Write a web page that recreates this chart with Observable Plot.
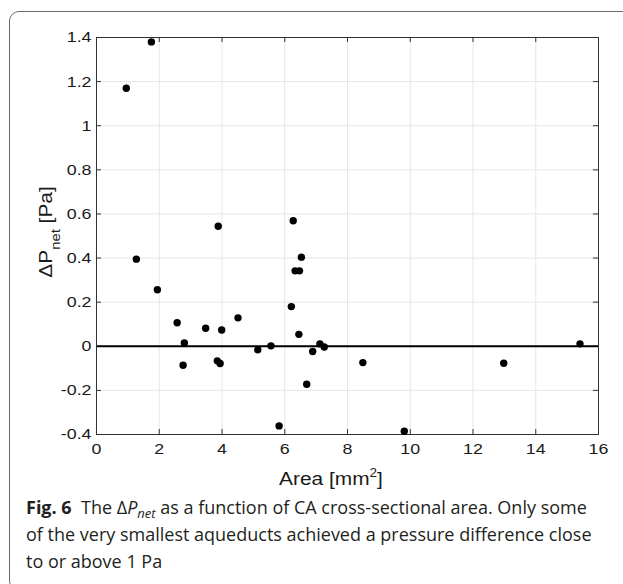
<!DOCTYPE html>
<html><head><meta charset="utf-8">
<script src="https://cdn.jsdelivr.net/npm/d3@7"></script>
<script src="https://cdn.jsdelivr.net/npm/@observablehq/plot@0.6"></script>
<style>
html,body{margin:0;padding:0;background:#fff;overflow:hidden;width:623px;height:584px;}
#wrap{position:relative;width:623px;height:584px;overflow:hidden;}
#box{position:absolute;left:8.5px;top:10.5px;width:680px;height:580px;border:1.2px solid #6a6a6a;border-radius:10px;box-sizing:border-box;}
#chart{position:absolute;left:0;top:0;}
#caption{position:absolute;left:26px;top:496px;font-family:"Open Sans",sans-serif;font-size:16.5px;line-height:27px;color:#231f20;white-space:nowrap;}
#caption b{font-weight:700;}
.sub{font-size:0.72em;position:relative;top:0.32em;line-height:0;}
</style></head><body>
<div id="wrap"><div id="box"></div><div id="chart"></div>
<div id="caption"><b>Fig. 6</b>&nbsp; The Δ<i>P</i><span class="sub"><i>net</i></span> as a function of CA cross-sectional area. Only some<br><span id="l2">of the very smallest aqueducts achieved a pressure difference close</span><br>to or above 1 Pa</div>
</div>
<script>
// Data
const area = [0.95, 1.75, 1.27, 1.94, 2.57, 2.80, 2.76, 3.48, 3.88, 3.85, 3.94, 3.99, 4.51, 5.14, 5.56, 5.82, 6.27, 6.21, 6.53, 6.33, 6.47, 6.45, 6.70, 6.89, 7.12, 7.26, 8.49, 9.81, 12.98, 15.41];
const dP   = [1.17, 1.38, 0.395, 0.256, 0.107, 0.015, -0.086, 0.082, 0.544, -0.066, -0.078, 0.074, 0.129, -0.016, 0.002, -0.361, 0.569, 0.180, 0.404, 0.342, 0.342, 0.054, -0.172, -0.024, 0.011, -0.003, -0.074, -0.385, -0.077, 0.011];
const xTicks = [0, 2, 4, 6, 8, 10, 12, 14, 16];
const xTickLabels = ["0", "2", "4", "6", "8", "10", "12", "14", "16"];
const yTicks = [-0.4, -0.2, 0, 0.2, 0.4, 0.6, 0.8, 1.0, 1.2, 1.4];
const yTickLabels = ["-0.4", "-0.2", "0", "0.2", "0.4", "0.6", "0.8", "1", "1.2", "1.4"];
const xLabel = "Area [mm";
const xLabelSup = "2";
const yLabelParts = ["Δ", "P", "net", " [Pa]"];

const pts = area.map((a, i) => ({area: a, dP: dP[i]}));

const W = 623, H = 500;
const mL = 96, mR = 25, mT = 37, mB = 66;
const pw = W - mL - mR, ph = H - mT - mB;
const tk = 5;
const frameColor = "#333333";
const ff = '"Liberation Sans", Arial, Helvetica, sans-serif';
const lab = (ticks, labels) => d => labels[ticks.findIndex(t => Math.abs(t - d) < 1e-9)];

const plot = Plot.plot({
  width: W, height: H,
  marginLeft: mL, marginRight: mR, marginTop: mT, marginBottom: mB,
  style: {fontFamily: ff, fontSize: "15.5px", color: "#1a1a1a", background: "transparent", overflow: "visible"},
  x: {domain: [0, 16], ticks: xTicks, label: null},
  y: {domain: [-0.4, 1.4], ticks: yTicks, label: null},
  marks: [
    Plot.gridX(xTicks, {stroke: "#e6e6e6", strokeOpacity: 1}),
    Plot.gridY(yTicks, {stroke: "#e6e6e6", strokeOpacity: 1}),
    Plot.tickX(xTicks, {x: d => d, insetTop: ph - tk, stroke: frameColor}),
    Plot.tickX(xTicks, {x: d => d, insetBottom: ph - tk, stroke: frameColor}),
    Plot.tickY(yTicks, {y: d => d, insetRight: pw - tk, stroke: frameColor}),
    Plot.tickY(yTicks, {y: d => d, insetLeft: pw - tk, stroke: frameColor}),
    Plot.ruleY([0], {stroke: "black", strokeWidth: 2}),
    Plot.frame({stroke: frameColor}),
    Plot.dot(pts, {x: "area", y: "dP", r: 3.7, fill: "black", stroke: "none"}),
    Plot.axisX(xTicks, {tickSize: 0, tickPadding: 8, label: null, fontSize: 15.5, fontFamily: ff, fill: "#1a1a1a", tickFormat: lab(xTicks, xTickLabels)}),
    Plot.axisY(yTicks, {tickSize: 0, tickPadding: 5, label: null, fontSize: 15.5, fontFamily: ff, fill: "#1a1a1a", tickFormat: lab(yTicks, yTickLabels)})
  ]
});
document.getElementById("chart").appendChild(plot);

const svg = d3.select(plot);
// widen tick label glyphs horizontally about their anchor (reference font is wider)
function stretch(sel, s) {
  sel.each(function () {
    const t = this.getAttribute("transform") || "";
    const x = this.getAttribute("x");
    if (x != null && x !== "" && !isNaN(+x)) this.setAttribute("transform", `${t} translate(${x},0) scale(${s},1) translate(${-x},0)`);
    else this.setAttribute("transform", `${t} scale(${s},1)`);
  });
}
stretch(svg.selectAll('g[aria-label="x-axis tick label"] text, g[aria-label="y-axis tick label"] text'), 1.15);

// x label
const xl = svg.append("text").attr("transform", "translate(331,485) scale(1.13,1)").attr("text-anchor", "middle")
  .style("font-family", ff).style("font-size", "18.5px").attr("fill", "#1a1a1a");
xl.append("tspan").text(xLabel);
xl.append("tspan").attr("dy", -8).style("font-size", "12px").text(xLabelSup);
xl.append("tspan").attr("dy", 8).text("]");
// y label
const yl = svg.append("text").attr("transform", "translate(52,232) rotate(-90) scale(1.1,1)").attr("text-anchor", "middle")
  .style("font-family", ff).style("font-size", "19px").attr("fill", "#1a1a1a");
yl.append("tspan").text(yLabelParts[0]);
yl.append("tspan").text(yLabelParts[1]);
yl.append("tspan").attr("dy", 8).style("font-size", "13.5px").text(yLabelParts[2]);
yl.append("tspan").attr("dy", -8).attr("xml:space", "preserve").text(yLabelParts[3]);

// fit caption font so that line 2 spans like the reference
const cap = document.getElementById("caption");
const ctx = document.createElement("canvas").getContext("2d");
ctx.font = '16px "Open Sans"';
const w16 = ctx.measureText(document.getElementById("l2").textContent).width;
const f = Math.min(18, Math.max(14, 16 * 569 / w16));
cap.style.fontSize = f + "px";
cap.style.top = (514 - ((27 - 1.362 * f) / 2 + 1.069 * f)) + "px";
</script>
</body></html>
